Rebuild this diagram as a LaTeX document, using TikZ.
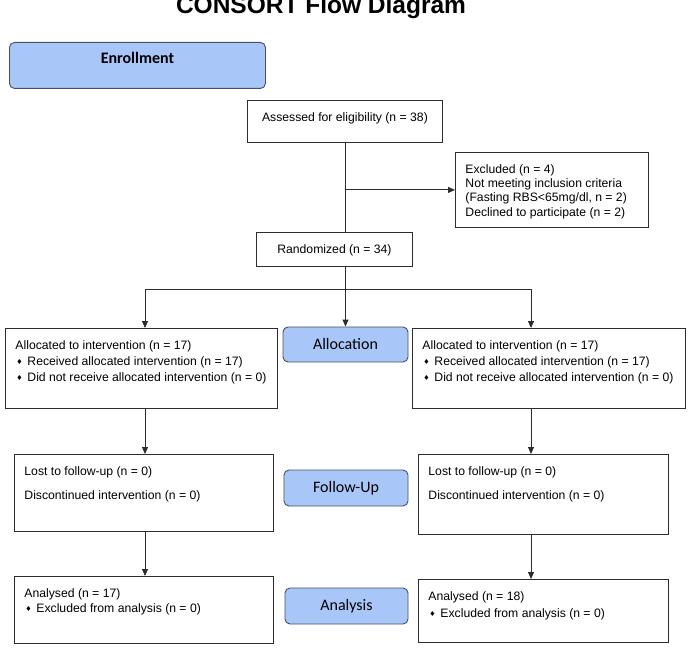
\documentclass[tikz,border=0pt]{standalone}
\usepackage{fontspec}
\setmainfont{Liberation Sans}
\newfontfamily\stagefont{Carlito}
\newfontfamily\symfont{DejaVu Sans}
\usetikzlibrary{arrows.meta}

\definecolor{stageblue}{RGB}{168,198,248}
\definecolor{stageline}{RGB}{70,80,100}
\definecolor{boxline}{RGB}{45,45,45}

\newcommand{\dmd}{\makebox[12pt][l]{\hspace{1pt}\raisebox{0.6pt}{\symfont\fontsize{7}{7}\selectfont ♦}}}
\newcommand{\lbody}[3]{\parbox[c][#2][t]{#1}{\raggedright\rule{0pt}{21pt}#3}}
\newcommand{\cbody}[3]{\parbox[c][#2][t]{#1}{\centering\rule{0pt}{21pt}#3}}

\tikzset{
  stage/.style={draw=stageline, fill=stageblue, line width=0.9pt, rounded corners=5pt,
    inner sep=0pt, font=\stagefont\fontsize{16}{18}\selectfont},
  record/.style={draw=boxline, line width=0.9pt, inner xsep=10pt, inner ysep=0pt,
    anchor=north west, font=\fontsize{12.2}{16}\selectfont},
  flow/.style={draw=boxline, line width=0.9pt, -{Triangle[length=7pt,width=6pt]}},
  link/.style={draw=boxline, line width=0.9pt}
}

\begin{document}
\begin{tikzpicture}[x=1pt,y=-1pt]
\useasboundingbox (0,0) rectangle (691,658);
\clip (0,0) rectangle (691,658);

\node[anchor=base, font=\fontsize{24.5}{28}\selectfont\bfseries] (title) at (321,14) {CONSORT Flow Diagram};

\node[stage, anchor=north west, font=\stagefont\bfseries\fontsize{16}{18}\selectfont] (enroll) at (9,42)
  {\cbody{256pt}{46pt}{Enrollment}};

\node[record] (assess) at (247,100) {\cbody{175pt}{42pt}{Assessed for eligibility (n = 38)}};
\node[record] (excl) at (455,152) {\lbody{173pt}{75pt}{\fontsize{12.2}{14.2}\selectfont
  Excluded (n = 4)\\ Not meeting inclusion criteria\\ (Fasting RBS<65mg/dl, n = 2)\\ Declined to participate (n = 2)}};
\node[record] (random) at (256,232) {\cbody{136pt}{34pt}{Randomized (n = 34)}};

\node[record] (allocL) at (5,328) {\lbody{252pt}{80pt}{Allocated to intervention (n = 17)\\
  \dmd Received allocated intervention (n = 17)\\ \dmd Did not receive allocated intervention (n = 0)}};
\node[record] (allocR) at (412,328) {\lbody{253pt}{80pt}{Allocated to intervention (n = 17)\\
  \dmd Received allocated intervention (n = 17)\\ \dmd Did not receive allocated intervention (n = 0)}};
\node[stage, minimum width=125pt, minimum height=35pt] (alloc) at (345.5,344.5) {Allocation};

\node[record] (fupL) at (14,454) {\lbody{239pt}{77pt}{Lost to follow-up (n = 0)\\[8pt] Discontinued intervention (n = 0)}};
\node[record] (fupR) at (418,454) {\lbody{230pt}{80pt}{Lost to follow-up (n = 0)\\[8pt] Discontinued intervention (n = 0)}};
\node[stage, minimum width=124pt, minimum height=36pt] (fup) at (346,488) {Follow-Up};

\node[record] (anaL) at (14,576) {\lbody{239pt}{67pt}{Analysed (n = 17)\\[-1pt] \dmd Excluded from analysis (n = 0)}};
\node[record] (anaR) at (418,579) {\lbody{230pt}{63pt}{Analysed (n = 18)\\[1pt] \dmd Excluded from analysis (n = 0)}};
\node[stage, minimum width=123pt, minimum height=36pt] (ana) at (346.5,606) {Analysis};

\coordinate (splitL) at (145,289);
\coordinate (splitR) at (531,289);

\draw[link] (assess.south) -- (assess.south |- random.north);
\draw[flow] (assess.south |- excl.west) -- (excl.west);
\draw[link] (assess.south |- random.south) -- (assess.south |- splitL);
\draw[link] (splitL) -- (splitR);
\draw[flow] (splitL) -- (splitL |- allocL.north);
\draw[flow] (alloc.north |- splitL) -- (alloc.north);
\draw[flow] (splitR) -- (splitR |- allocR.north);
\draw[flow] (splitL |- allocL.south) -- (splitL |- fupL.north);
\draw[flow] (splitL |- fupL.south) -- (splitL |- anaL.north);
\draw[flow] (splitR |- allocR.south) -- (splitR |- fupR.north);
\draw[flow] (splitR |- fupR.south) -- (splitR |- anaR.north);

\end{tikzpicture}
\end{document}
